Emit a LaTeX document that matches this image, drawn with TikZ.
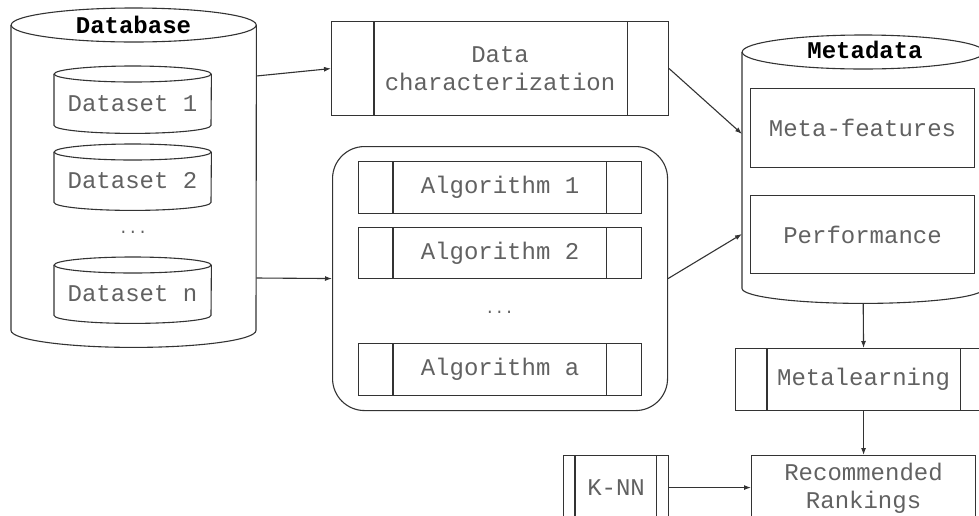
\documentclass[tikz,border=0pt]{standalone}
\usepackage{fontspec}
\setmonofont{Liberation Mono}
\usetikzlibrary{arrows.meta}
\begin{document}
\begin{tikzpicture}[x=1pt,y=1pt,
  line/.style={draw=black!80, line width=1.1pt},
  txt/.style={font=\ttfamily\fontsize{24}{28}\selectfont, text=black!62, align=center, inner sep=0},
  ttl/.style={font=\ttfamily\bfseries\fontsize{24}{28}\selectfont, text=black, inner sep=0},
  dots/.style={font=\ttfamily\fontsize{16}{18}\selectfont, text=black!62, inner sep=0},
  box/.style={line, rectangle, inner sep=0, anchor=north west, txt},
  area/.style={rectangle, inner sep=0, anchor=north west},
  arr/.style={line, -{Latex[length=7pt,width=5pt]}},
]
\useasboundingbox (0,0) rectangle (979,-515);
\clip (0,0) rectangle (979,-515);

% ---------- Database cylinder ----------
\node[area, minimum width=245, minimum height=305] (db) at (11,-25) {};
\draw[line] (db.north west) -- (db.south west)
  arc[start angle=180, end angle=360, x radius=122.5, y radius=17] -- (db.north east);
\draw[line] (db.north) ellipse [x radius=122.5, y radius=17];
\node[ttl] (dbt) at (133.5,-25) {Database};

% datasets
\node[area, minimum width=157, minimum height=51] (ds1) at (54,-74) {};
\draw[line] (ds1.north west) -- (ds1.south west)
  arc[start angle=180, end angle=360, x radius=78.5, y radius=8] -- (ds1.north east);
\draw[line] (ds1.north) ellipse [x radius=78.5, y radius=8];
\node[txt] (ds1t) at (132.5,-104) {Dataset 1};

\node[area, minimum width=157, minimum height=50] (ds2) at (54,-152) {};
\draw[line] (ds2.north west) -- (ds2.south west)
  arc[start angle=180, end angle=360, x radius=78.5, y radius=8] -- (ds2.north east);
\draw[line] (ds2.north) ellipse [x radius=78.5, y radius=8];
\node[txt] (ds2t) at (132.5,-181) {Dataset 2};

\node[dots] (dsdots) at (133,-232) {...};

\node[area, minimum width=157, minimum height=50] (dsn) at (54,-265) {};
\draw[line] (dsn.north west) -- (dsn.south west)
  arc[start angle=180, end angle=360, x radius=78.5, y radius=8] -- (dsn.north east);
\draw[line] (dsn.north) ellipse [x radius=78.5, y radius=8];
\node[txt] (dsnt) at (132.5,-294) {Dataset n};

% ---------- Data characterization ----------
\node[box, minimum width=337, minimum height=94] (dc) at (331,-21) {Data\\characterization};
\draw[line] ([xshift=43pt]dc.north west) -- ([xshift=43pt]dc.south west);
\draw[line] ([xshift=-42pt]dc.north east) -- ([xshift=-42pt]dc.south east);

% ---------- Algorithms container ----------
\node[box, rounded corners=32pt, minimum width=335, minimum height=264] (algc) at (332,-146) {};

\node[box, minimum width=283, minimum height=52] (a1) at (358,-161) {Algorithm 1};
\draw[line] ([xshift=35pt]a1.north west) -- ([xshift=35pt]a1.south west);
\draw[line] ([xshift=-36pt]a1.north east) -- ([xshift=-36pt]a1.south east);

\node[box, minimum width=283, minimum height=51] (a2) at (358,-227) {Algorithm 2};
\draw[line] ([xshift=35pt]a2.north west) -- ([xshift=35pt]a2.south west);
\draw[line] ([xshift=-36pt]a2.north east) -- ([xshift=-36pt]a2.south east);

\node[dots] (adots) at (499.5,-312) {...};

\node[box, minimum width=283, minimum height=52] (aa) at (358,-343) {Algorithm a};
\draw[line] ([xshift=35pt]aa.north west) -- ([xshift=35pt]aa.south west);
\draw[line] ([xshift=-36pt]aa.north east) -- ([xshift=-36pt]aa.south east);

% ---------- Metadata cylinder ----------
\node[area, minimum width=242, minimum height=236] (md) at (742,-52) {};
\draw[line] (md.north west) -- (md.south west)
  arc[start angle=180, end angle=360, x radius=121, y radius=15] -- (md.north east);
\draw[line] (md.north) ellipse [x radius=121, y radius=17];
\node[ttl] (mdt) at (865,-50) {Metadata};

\node[box, minimum width=224, minimum height=79] (mf) at (750,-88) {Meta-features};
\node[box, minimum width=224, minimum height=78] (perf) at (750,-195) {Performance};

% ---------- Metalearning ----------
\node[box, minimum width=256, minimum height=62] (ml) at (735,-348) {Metalearning};
\draw[line] ([xshift=32pt]ml.north west) -- ([xshift=32pt]ml.south west);
\draw[line] ([xshift=-32pt]ml.north east) -- ([xshift=-32pt]ml.south east);

% ---------- Recommended rankings & K-NN ----------
\node[box, minimum width=224, minimum height=65] (rr) at (751,-455) {Recommended\\Rankings};
\node[box, minimum width=105, minimum height=64] (knn) at (563,-455) {K-NN};
\draw[line] ([xshift=12pt]knn.north west) -- ([xshift=12pt]knn.south west);
\draw[line] ([xshift=-13pt]knn.north east) -- ([xshift=-13pt]knn.south east);

% ---------- Connectors ----------
\draw[arr] ([yshift=-51pt]db.north east) -- (dc.west);
\draw[arr] ([yshift=-253pt]db.north east) -- (algc.west);
\draw[arr] (dc.east) -- ([yshift=-82pt]md.north west);
\draw[arr] (algc.east) -- ([yshift=-182pt]md.north west);
\draw[arr] ([yshift=-15pt]md.south) -- (ml.north);
\draw[arr] (ml.south) -- (rr.north);
\draw[arr] (knn.east) -- (knn.east -| rr.west);
\end{tikzpicture}
\end{document}
